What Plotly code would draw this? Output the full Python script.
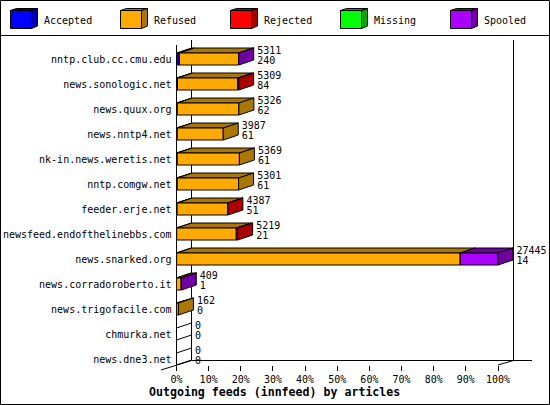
import plotly.graph_objects as go

W, H = 550, 405

feeds = ["nntp.club.cc.cmu.edu", "news.sonologic.net", "news.quux.org", "news.nntp4.net",
         "nk-in.news.weretis.net", "nntp.comgw.net", "feeder.erje.net",
         "newsfeed.endofthelinebbs.com", "news.snarked.org", "news.corradoroberto.it",
         "news.trigofacile.com", "chmurka.net", "news.dne3.net"]
articles = [5311, 5309, 5326, 3987, 5369, 5301, 4387, 5219, 27445, 409, 162, 0, 0]
second_label = [240, 84, 62, 61, 61, 61, 51, 21, 14, 1, 0, 0, 0]

accepted = [240, 84, 62, 61, 61, 61, 51, 21, 14, 1, 0, 0, 0]
refused = [5061, 5145, 5264, 3926, 5308, 5240, 4326, 5080, 24200, 407, 162, 0, 0]
rejected = [0, 80, 0, 0, 0, 0, 10, 118, 0, 0, 0, 0, 0]
missing = [0, 0, 0, 0, 0, 0, 0, 0, 0, 0, 0, 0, 0]
spooled = [10, 0, 0, 0, 0, 0, 0, 0, 3231, 1, 0, 0, 0]

legend_names = ["Accepted", "Refused", "Rejected", "Missing", "Spooled"]
series = [accepted, refused, rejected, missing, spooled]
front_colors = ["#0000ff", "#ffaa00", "#ff0000", "#00ff00", "#aa00ff"]
dark_colors = ["#0000aa", "#aa7700", "#aa0000", "#00aa00", "#7000a0"]
pct_ticks = [0, 10, 20, 30, 40, 50, 60, 70, 80, 90, 100]

FONT = "DejaVu Sans Mono"
PX_PER_PCT = 3.215
DX = 15 / PX_PER_PCT   # depth of the fake 3d, in % of the x axis
DY = 0.2               # depth in rows
HALF = 0.24            # half a bar, in rows
AXIS_LEFT = 176.5
scale = 100 / max(articles)

fig = go.Figure()


def face(xs, ys, color):
    fig.add_trace(go.Scatter(x=xs, y=ys, mode="lines", fill="toself", fillcolor=color,
                             line=dict(color="black", width=1), cliponaxis=False,
                             hoverinfo="skip", showlegend=False))


for row, total in enumerate(articles):
    y0, y1 = row - HALF, row + HALF
    if total == 0:
        # empty feeds only leave the two edges of the box
        for yy in (y0, y1):
            fig.add_trace(go.Scatter(x=[0, DX], y=[yy, yy - DY], mode="lines",
                                     line=dict(color="black", width=1), cliponaxis=False,
                                     hoverinfo="skip", showlegend=False))
        continue
    left = 0
    last = 0
    for s, values in enumerate(series):
        if values[row] == 0:
            continue
        right = left + values[row] * scale
        face([left, left + DX, right + DX, right, left],
             [y0, y0 - DY, y0 - DY, y0, y0], dark_colors[s])
        face([left, right, right, left, left], [y0, y0, y1, y1, y0], front_colors[s])
        left = right
        last = s
    face([left, left + DX, left + DX, left, left],
         [y0, y0 - DY, y1 - DY, y1, y0], dark_colors[last])

label_x = [v * scale + DX + 1.1 for v in articles]
fig.add_trace(go.Scatter(x=label_x, y=[i - 8 / 25 for i in range(len(feeds))], mode="text",
                         text=[str(v) for v in articles], textposition="middle right",
                         textfont=dict(family=FONT, size=10, color="black"),
                         cliponaxis=False, hoverinfo="skip", showlegend=False))
fig.add_trace(go.Scatter(x=label_x, y=[i + 2.5 / 25 for i in range(len(feeds))], mode="text",
                         text=[str(v) for v in second_label], textposition="middle right",
                         textfont=dict(family=FONT, size=10, color="black"),
                         cliponaxis=False, hoverinfo="skip", showlegend=False))


def px_line(x0, y0, x1, y1, layer="below"):
    return dict(type="line", xref="paper", yref="paper", x0=x0 / W, x1=x1 / W,
                y0=1 - y0 / H, y1=1 - y1 / H, layer=layer,
                line=dict(color="black", width=1))


shapes = [
    dict(type="rect", xref="paper", yref="paper", x0=0.5 / W, x1=(W - 0.5) / W,
         y0=0.5 / H, y1=1 - 0.5 / H, line=dict(color="black", width=1)),
    px_line(0, 35.5, W, 35.5),
    px_line(176.5, 45, 176.5, 365),
    px_line(191.5, 40, 191.5, 360.5),
    px_line(513.5, 40, 513.5, 360.5),
    px_line(191.5, 360.5, 532, 360.5),
    px_line(161, 370, 191.5, 360.5),
    px_line(498, 365, 513.5, 360.5),
]

annotations = [dict(text="Outgoing feeds (innfeed) by articles", xref="paper", yref="paper",
                    x=274 / W, y=1 - 392 / H, showarrow=False, xanchor="center", yanchor="middle",
                    font=dict(family=FONT, size=11.6, color="black", weight="bold"))]

for i, name in enumerate(legend_names):
    lx = 10.5 + 110 * i
    shapes.append(dict(type="path", xref="paper", yref="paper", fillcolor=dark_colors[i],
                       line=dict(color="black", width=1),
                       path="M {} {} L {} {} L {} {} L {} {} Z".format(
                           lx / W, 1 - 10.5 / H, (lx + 6) / W, 1 - 8.5 / H,
                           (lx + 27) / W, 1 - 8.5 / H, (lx + 21) / W, 1 - 10.5 / H)))
    shapes.append(dict(type="path", xref="paper", yref="paper", fillcolor=dark_colors[i],
                       line=dict(color="black", width=1),
                       path="M {} {} L {} {} L {} {} L {} {} Z".format(
                           (lx + 21) / W, 1 - 10.5 / H, (lx + 27) / W, 1 - 8.5 / H,
                           (lx + 27) / W, 1 - 26 / H, (lx + 21) / W, 1 - 28.5 / H)))
    shapes.append(dict(type="rect", xref="paper", yref="paper", fillcolor=front_colors[i],
                       line=dict(color="black", width=1),
                       x0=lx / W, x1=(lx + 21) / W, y0=1 - 28.5 / H, y1=1 - 10.5 / H))
    annotations.append(dict(text=name, xref="paper", yref="paper", x=(lx + 31.5) / W, y=1 - 20 / H,
                            showarrow=False, xanchor="left", yanchor="middle",
                            font=dict(family=FONT, size=10, color="black")))

fig.update_layout(
    width=W, height=H, margin=dict(l=0, r=0, t=0, b=0),
    paper_bgcolor="white", plot_bgcolor="white", showlegend=False,
    shapes=shapes, annotations=annotations,
    xaxis=dict(domain=[AXIS_LEFT / W, 1], range=[0, (W - AXIS_LEFT) / PX_PER_PCT], tickmode="array",
               tickvals=pct_ticks, ticktext=[f"{p}%" for p in pct_ticks], ticks="outside", ticklen=5,
               tickcolor="black", tickwidth=1, showgrid=False, zeroline=False, showline=False,
               automargin=False, tickfont=dict(family=FONT, size=10, color="black")),
    yaxis=dict(domain=[1 - 365 / H, 1 - 45 / H], range=[12.24, -0.56], tickmode="array",
               tickvals=list(range(len(feeds))), ticktext=feeds, ticks="outside", ticklen=2,
               tickcolor="rgba(0,0,0,0)", showgrid=False, zeroline=False, showline=False,
               automargin=False, tickfont=dict(family=FONT, size=10, color="black")),
)

fig.write_html("out.html", config=dict(displayModeBar=False),
               post_script="document.body.style.margin='0';document.body.style.overflow='hidden';")
